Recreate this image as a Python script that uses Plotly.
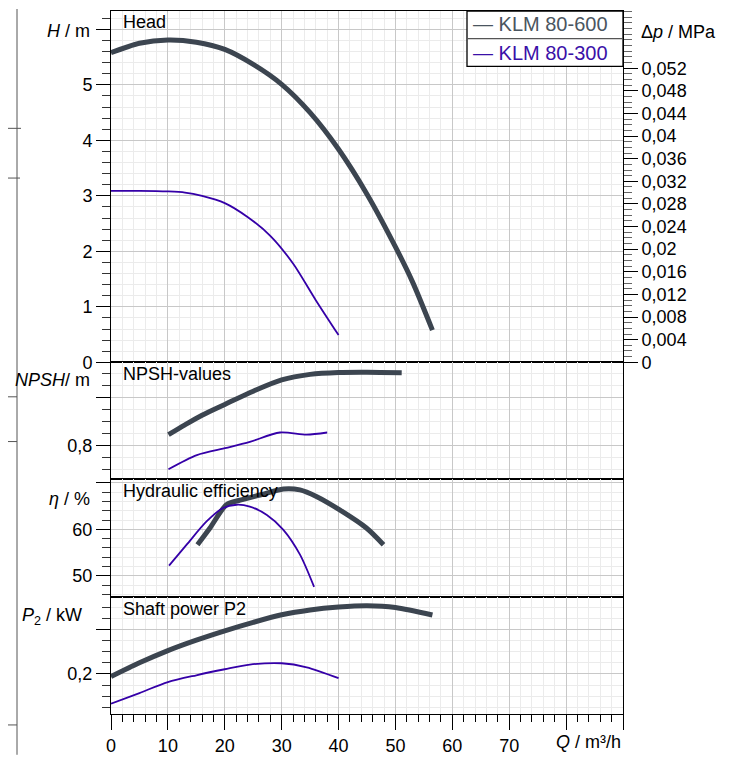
import plotly.graph_objects as go

# ---------------- data ----------------
q_head_600 = [0, 5, 10, 15, 20, 25, 30, 35, 40, 45, 50, 53, 56.5]
h_600 = [5.58, 5.75, 5.81, 5.77, 5.64, 5.37, 5.01, 4.50, 3.84, 3.03, 2.08, 1.45, 0.58]
q_head_300 = [0, 5, 10, 13, 16, 20, 24, 28, 32, 36, 40]
h_300 = [3.09, 3.09, 3.08, 3.06, 3.0, 2.87, 2.62, 2.28, 1.78, 1.12, 0.49]

q_npsh_600 = [10.1, 13, 16, 20, 25, 30, 35, 40, 45, 51.1]
npsh_600 = [0.844, 0.885, 0.925, 0.97, 1.025, 1.072, 1.095, 1.103, 1.104, 1.102]
q_npsh_300 = [10.1, 15.1, 20.3, 24.4, 29.7, 34.4, 38]
npsh_300 = [0.70, 0.759, 0.789, 0.814, 0.853, 0.844, 0.853]

q_eta_600 = [15.2, 17.4, 20.3, 22.7, 26.2, 30.3, 33.2, 36.1, 40.2, 44.9, 47.9]
eta_600 = [56.7, 60.3, 65.3, 66.3, 67.4, 68.7, 68.5, 67.1, 64.2, 60.3, 56.7]
q_eta_300 = [10.2, 13.3, 16.8, 19.7, 22.1, 24.4, 27.4, 30.3, 33.2, 35.7]
eta_300 = [52.2, 56.7, 61.7, 64.6, 65.3, 64.9, 63.1, 59.9, 54.6, 47.6]

q_p_600 = [0, 5, 10, 15, 20, 25, 30, 35, 40, 45, 50, 56.5]
p_600 = [0.188, 0.25, 0.305, 0.352, 0.394, 0.432, 0.466, 0.488, 0.501, 0.507, 0.499, 0.465]
q_p_300 = [0, 5, 10, 15, 20, 24.4, 30, 34.4, 40]
p_300 = [0.066, 0.114, 0.163, 0.194, 0.221, 0.242, 0.248, 0.230, 0.181]

series_names = ["KLM 80-600", "KLM 80-300"]
x_ticks = [0, 10, 20, 30, 40, 50, 60, 70, 80, 90]
x_ticktext = ["0", "10", "20", "30", "40", "50", "60", "70", "", ""]
head_ticks = [0, 1, 2, 3, 4, 5, 6]
head_ticktext = ["0", "1", "2", "3", "4", "5", ""]
dp_ticks = [0, 0.004, 0.008, 0.012, 0.016, 0.02, 0.024, 0.028, 0.032, 0.036,
            0.04, 0.044, 0.048, 0.052]
dp_ticktext = ["0", "0,004", "0,008", "0,012", "0,016", "0,02", "0,024", "0,028",
               "0,032", "0,036", "0,04", "0,044", "0,048", "0,052"]
npsh_ticks = [0.6, 0.8, 1.0, 1.2]
npsh_ticktext = ["", "0,8", "", ""]
eta_ticks = [40, 50, 60, 70]
eta_ticktext = ["", "50", "60", ""]
p_ticks = [0.0, 0.2, 0.4, 0.6]
p_ticktext = ["", "0,2", "", ""]

# ---------------- style ----------------
C600 = "#3c4550"
C300 = "#3500a8"
FONT = "Liberation Sans, Arial, sans-serif"
MAJ_GRID = "#c8c8c8"
MIN_GRID = "#ebebeb"

OFF = 8  # page body margin
W, H = 721, 750
ML, MR, MT, MB = 103, 106, 2, 41
PH = H - MT - MB
PW = W - ML - MR


def py(p):
    return (H - MB - (p - OFF)) / PH


def px(p):
    return (p - OFF - ML) / PW


fig = go.Figure()


def line(q, v, color, width, xa, ya, name):
    fig.add_trace(go.Scatter(x=q, y=v, mode="lines", name=name,
                             line=dict(color=color, width=width, shape="spline", smoothing=0.8),
                             xaxis=xa, yaxis=ya, showlegend=False))


line(q_head_600, h_600, C600, 5, "x", "y", series_names[0])
line(q_head_300, h_300, C300, 1.8, "x", "y", series_names[1])
line(q_npsh_600, npsh_600, C600, 5, "x2", "y2", series_names[0])
line(q_npsh_300, npsh_300, C300, 1.8, "x2", "y2", series_names[1])
line(q_eta_600, eta_600, C600, 5, "x3", "y3", series_names[0])
line(q_eta_300, eta_300, C300, 1.8, "x3", "y3", series_names[1])
line(q_p_600, p_600, C600, 5, "x4", "y4", series_names[0])
line(q_p_300, p_300, C300, 1.8, "x4", "y4", series_names[1])
# invisible trace to show the right axis
fig.add_trace(go.Scatter(x=[0], y=[0], mode="markers", marker=dict(opacity=0),
                         xaxis="x", yaxis="y5", showlegend=False, hoverinfo="skip"))

tickfont = dict(family=FONT, size=18, color="black")


def xaxis(anchor, show_labels):
    d = dict(range=[0, 90], anchor=anchor, showline=True, linecolor="black", linewidth=1,
             mirror=True, tickmode="array", tickvals=x_ticks,
             showgrid=True, gridcolor=MAJ_GRID, gridwidth=1, zeroline=False,
             tickfont=tickfont, fixedrange=True,
             minor=dict(dtick=2, tick0=0, showgrid=True, gridcolor=MIN_GRID,
                        ticks="outside" if show_labels else "", ticklen=7,
                        tickcolor="black"))
    if show_labels:
        d.update(ticks="outside", ticklen=15, tickcolor="black", ticktext=x_ticktext,
                 showticklabels=True)
    else:
        d.update(ticks="", showticklabels=False, ticktext=[""] * len(x_ticks))
    return d


def yaxis(domain, rng, tv, tt, mdt):
    return dict(domain=domain, range=rng, showline=True, linecolor="black", linewidth=1,
                mirror=True, tickmode="array", tickvals=tv, ticktext=tt,
                ticks="outside", ticklen=14, tickcolor="black",
                showgrid=True, gridcolor=MAJ_GRID, zeroline=False,
                tickfont=tickfont, fixedrange=True,
                minor=dict(dtick=mdt, tick0=0, showgrid=True, gridcolor=MIN_GRID,
                           ticks="outside", ticklen=8, tickcolor="#333333"))


d_head = [py(363.3), 1]
d_npsh = [py(481), py(363.3)]
d_eta = [py(599), py(481)]
d_p = [0, py(599)]

head_max = (363.3 - 10) / 55.8
npsh_lo = 0.8 - (481 - 446.7) / 241.5
npsh_hi = 0.8 + (446.7 - 363.3) / 241.5
eta_lo = 60 - (599 - 531.3) / 4.67
eta_hi = 60 + (531.3 - 481) / 4.67
p_lo = 0.2 - (717 - 676.7) / 223.5
p_hi = 0.2 + (676.7 - 599) / 223.5

fig.update_layout(
    width=W, height=H,
    margin=dict(l=ML, r=MR, t=MT, b=MB, pad=0),
    paper_bgcolor="white", plot_bgcolor="white",
    font=dict(family=FONT, size=18, color="black"),
    showlegend=False,
    xaxis=xaxis("y", False),
    xaxis2=xaxis("y2", False) | dict(matches="x"),
    xaxis3=xaxis("y3", False) | dict(matches="x"),
    xaxis4=xaxis("y4", True) | dict(matches="x"),
    yaxis=yaxis(d_head, [0, head_max], head_ticks, head_ticktext, 0.2),
    yaxis2=yaxis(d_npsh, [npsh_lo, npsh_hi], npsh_ticks, npsh_ticktext, 0.05),
    yaxis3=yaxis(d_eta, [eta_lo, eta_hi], eta_ticks, eta_ticktext, 2),
    yaxis4=yaxis(d_p, [p_lo, p_hi], p_ticks, p_ticktext, 0.05),
    yaxis5=dict(overlaying="y", side="right", anchor="x",
                range=[0, head_max * 0.00981], tickmode="array",
                tickvals=dp_ticks, ticktext=dp_ticktext,
                ticks="outside", ticklen=14, tickcolor="black",
                showgrid=False, zeroline=False, showline=True, linecolor="black",
                tickfont=dict(family=FONT, size=18, color="black"), fixedrange=True,
                minor=dict(dtick=0.001, tick0=0, ticks="outside", ticklen=8,
                           tickcolor="#666666", showgrid=False)),
)

ann = []


def add_text(text, x, y, xanchor="left", size=18, color="black"):
    ann.append(dict(text=text, x=x, y=y, xref="paper", yref="paper",
                    xanchor=xanchor, yanchor="middle", showarrow=False,
                    font=dict(family=FONT, size=size, color=color)))


# panel titles
add_text("Head", px(121), py(21))
add_text("NPSH-values", px(121), py(375))
add_text("Hydraulic efficiency", px(121), py(493))
add_text("Shaft power P2", px(121), py(611))
# axis titles
add_text("<i>H</i> / m", px(92), py(30), "right")
add_text("<i>NPSH</i>/ m", px(92), py(381), "right")
add_text("<i>η</i> / %", px(92), py(501), "right")
add_text("<i>P</i><sub>2</sub> / kW", px(84), py(619), "right")
add_text("Δ<i>p</i> / MPa", px(639), py(31), "left")
add_text("<i>Q</i> / m³/h", px(623), py(745), "right")
# legend
add_text("— " + series_names[0], px(471), py(23), "left", 20, "#4a5560")
add_text("— " + series_names[1], px(471), py(52), "left", 20, "#3a10a8")

shapes = [
    dict(type="rect", xref="paper", yref="paper", x0=px(467), x1=px(623),
         y0=py(65.7), y1=py(10), line=dict(color="black", width=1.3),
         fillcolor="white", layer="above"),
    dict(type="line", xref="paper", yref="paper", x0=px(467), x1=px(623),
         y0=py(37.7), y1=py(37.7), line=dict(color="#555555", width=1.3)),
]
# outer frame remnants on the left
frame_col = "#555555"
shapes.append(dict(type="line", xref="paper", yref="paper", x0=px(17), x1=px(17),
                   y0=py(8), y1=py(758), line=dict(color=frame_col, width=1)))
for yy, xe in [(128, 21), (178, 20), (398, 17), (443, 17), (728, 17)]:
    shapes.append(dict(type="line", xref="paper", yref="paper", x0=px(8), x1=px(xe),
                       y0=py(yy), y1=py(yy), line=dict(color=frame_col, width=1)))

fig.update_layout(annotations=ann, shapes=shapes)

fig.write_html("out.html")
